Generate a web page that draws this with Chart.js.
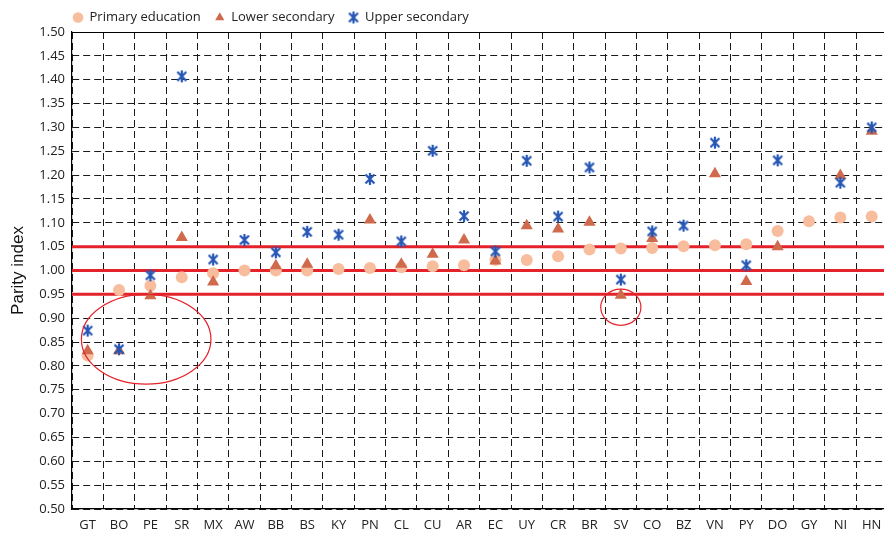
<!DOCTYPE html>
<html>
<head>
<meta charset="utf-8">
<script src="https://cdn.jsdelivr.net/npm/chart.js@4.4.1/dist/chart.umd.min.js"></script>
<style>
  html, body { margin: 0; padding: 0; background: #fff; overflow: hidden; }
  #wrap { width: 900px; height: 534px; position: relative; }
</style>
</head>
<body>
<div id="wrap"><canvas id="graficoParidad"></canvas></div>
<script>
// countries along the x axis
const paises = ["GT", "BO", "PE", "SR", "MX", "AW", "BB", "BS", "KY", "PN", "CL", "CU", "AR",
  "EC", "UY", "CR", "BR", "SV", "CO", "BZ", "VN", "PY", "DO", "GY", "NI", "HN"];

// parity index per level (null = no value)
const primaria = [0.822, 0.959, 0.968, 0.986, 0.994, 1.000, 1.000, 1.000, 1.003, 1.005, 1.007, 1.009, 1.011,
  1.022, 1.022, 1.030, 1.044, 1.046, 1.047, 1.051, 1.053, 1.055, 1.083, 1.103, 1.111, 1.113];
const secundariaBaja = [0.832, 0.832, 0.947, 1.069, 0.976, null, 1.010, 1.013, null, 1.106, 1.013, 1.034, 1.064,
  1.020, 1.094, 1.087, 1.101, 0.948, 1.067, null, 1.203, 0.977, 1.050, null, 1.199, 1.292];
const secundariaAlta = [0.874, 0.835, 0.990, 1.407, 1.023, 1.064, 1.038, 1.081, 1.075, 1.192, 1.061, 1.251, 1.114,
  1.040, 1.230, 1.113, 1.216, 0.981, 1.082, 1.094, 1.268, 1.011, 1.231, null, 1.184, 1.300];

// reference lines and y axis range
const lineasReferencia = [0.95, 1.00, 1.05];
const ejeMin = 0.5;
const ejeMax = 1.5;
const ejePaso = 0.05;

// circled areas: [first category, last category, low value, high value]
const circulos = [
  [-0.2, 3.93, 0.762, 0.950],
  [16.36, 17.64, 0.885, 0.961]
];

document.addEventListener("DOMContentLoaded", () => {
  const lienzo = document.querySelector("#graficoParidad");

  // Excel style asterisk marker
  const estrella = document.createElement("canvas");
  estrella.width = 14;
  estrella.height = 14;
  const e = estrella.getContext("2d");
  e.strokeStyle = "#2556B5";
  e.lineWidth = 2.2;
  e.beginPath();
  e.moveTo(2.5, 2.5); e.lineTo(11.5, 11.5);
  e.moveTo(11.5, 2.5); e.lineTo(2.5, 11.5);
  e.moveTo(7, 1); e.lineTo(7, 13);
  e.stroke();

  const lineasRojas = {
    id: "lineasRojas",
    beforeDatasetsDraw(chart) {
      const { ctx, chartArea, scales } = chart;
      ctx.save();
      ctx.strokeStyle = "#E3222A";
      ctx.lineWidth = 3;
      lineasReferencia.forEach((v) => {
        const y = scales.y.getPixelForValue(v);
        ctx.beginPath();
        ctx.moveTo(chartArea.left, y);
        ctx.lineTo(chartArea.right, y);
        ctx.stroke();
      });
      ctx.restore();
    },
    afterDatasetsDraw(chart) {
      const { ctx, scales } = chart;
      ctx.save();
      ctx.strokeStyle = "#E3222A";
      ctx.lineWidth = 1.2;
      circulos.forEach(([c1, c2, v1, v2]) => {
        const x1 = scales.x.getPixelForValue(c1);
        const x2 = scales.x.getPixelForValue(c2);
        const y1 = scales.y.getPixelForValue(v2);
        const y2 = scales.y.getPixelForValue(v1);
        ctx.beginPath();
        ctx.ellipse((x1 + x2) / 2, (y1 + y2) / 2, (x2 - x1) / 2, (y2 - y1) / 2, 0, 0, Math.PI * 2);
        ctx.stroke();
      });
      ctx.restore();
    },
    beforeDraw(chart) {
      // put the legend over the plot's left edge, like the original
      const leyenda = chart.legend;
      const pad = leyenda.options.labels.padding;
      leyenda.left = chart.chartArea.left - pad + 1;
      leyenda.top = 17.5 - pad - 6.5;
    }
  };

  const fuente = { family: "'Open Sans', 'Noto Sans', sans-serif", size: 13 };

  new Chart(lienzo, {
    type: "line",
    data: {
      labels: paises,
      datasets: [
        {
          label: "Primary education",
          data: primaria,
          showLine: false,
          pointStyle: "circle",
          pointRadius: 6,
          pointHoverRadius: 6,
          pointBorderWidth: 0,
          backgroundColor: "#F8BD9D",
          borderColor: "#F8BD9D",
          order: 3,
        },
        {
          label: "Lower secondary",
          data: secundariaBaja,
          showLine: false,
          pointStyle: "triangle",
          pointRadius: 7,
          pointHoverRadius: 7,
          pointBorderWidth: 0,
          backgroundColor: "#CF6A4C",
          borderColor: "#CF6A4C",
          order: 2,
        },
        {
          label: "Upper secondary",
          data: secundariaAlta,
          showLine: false,
          pointStyle: estrella,
          backgroundColor: "#2556B5",
          borderColor: "#2556B5",
          order: 1,
        },
      ],
    },
    options: {
      responsive: true,
      maintainAspectRatio: false,
      animation: false,
      layout: { padding: { left: 0, right: 12.6, top: -5, bottom: 0 } },
      plugins: {
        tooltip: { enabled: false },
        legend: {
          position: "top",
          align: "start",
          labels: {
            usePointStyle: true,
            boxWidth: 10,
            boxHeight: 7.5,
            padding: 14,
            color: "#222",
            font: fuente,
            sort: (a, b) => a.datasetIndex - b.datasetIndex,
          },
        },
      },
      scales: {
        x: {
          offset: true,
          grid: { offset: true, color: "#1a1a1a", lineWidth: 1, drawTicks: false },
          border: { display: true, color: "#000", width: 1.2, dash: (c) => (c.tick ? [7, 4] : []) },
          ticks: { color: "#222", font: fuente, padding: 8, autoSkip: false, maxRotation: 0 },
          afterFit: (s) => { s.height = 25; },
        },
        y: {
          min: ejeMin,
          max: ejeMax,
          grid: { color: (c) => (c.tick && c.tick.value >= ejeMax - 1e-6 ? "#000" : "#1a1a1a"), lineWidth: 1, drawTicks: false },
          border: {
            display: true,
            color: "#000",
            width: 1.2,
            dash: (c) => (c.tick && c.tick.value < ejeMax - 1e-6 ? [7, 4] : []),
          },
          ticks: {
            stepSize: ejePaso,
            color: "#222",
            font: fuente,
            padding: 7,
            callback: (v) => Number(v).toFixed(2),
          },
          title: {
            display: true,
            text: "Parity index",
            color: "#111",
            font: { family: "'Liberation Sans', Arial, sans-serif", size: 17 },
            padding: { top: 8, bottom: 0 },
          },
          afterFit: (s) => { s.width = 72; },
        },
      },
    },
    plugins: [lineasRojas],
  });
});
</script>
</body>
</html>
